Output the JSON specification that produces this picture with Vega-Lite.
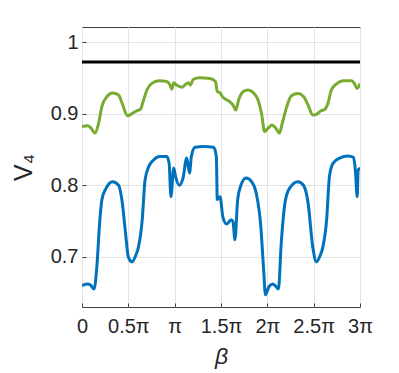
{
  "$schema": "https://vega.github.io/schema/vega-lite/v6.json",
  "width": 278,
  "height": 280,
  "autosize": "none",
  "padding": {"left": 82, "top": 27, "right": 39, "bottom": 66},
  "background": "white",
  "config": {
    "font": "Liberation Sans",
    "view": {"stroke": "#404040", "strokeWidth": 1},
    "axis": {
      "grid": true,
      "gridColor": "#e3e3e3",
      "gridWidth": 1,
      "domain": false,
      "tickColor": "#404040",
      "tickSize": -4,
      "labelFont": "Liberation Sans",
      "labelFontSize": 20,
      "labelColor": "#262626",
      "titleColor": "#262626",
      "titleFontWeight": "normal",
      "labelOverlap": false,
      "labelFlush": false,
      "labelBound": false
    }
  },
  "data": {"values": [
    {"s": "blue", "x": 0.0, "y": 0.660},
    {"s": "blue", "x": 0.06, "y": 0.662},
    {"s": "blue", "x": 0.09, "y": 0.661},
    {"s": "blue", "x": 0.13, "y": 0.655},
    {"s": "blue", "x": 0.16, "y": 0.686},
    {"s": "blue", "x": 0.19, "y": 0.747},
    {"s": "blue", "x": 0.215, "y": 0.780},
    {"s": "blue", "x": 0.26, "y": 0.796},
    {"s": "blue", "x": 0.33, "y": 0.805},
    {"s": "blue", "x": 0.395, "y": 0.800},
    {"s": "blue", "x": 0.43, "y": 0.780},
    {"s": "blue", "x": 0.47, "y": 0.733},
    {"s": "blue", "x": 0.50, "y": 0.700},
    {"s": "blue", "x": 0.54, "y": 0.693},
    {"s": "blue", "x": 0.58, "y": 0.702},
    {"s": "blue", "x": 0.61, "y": 0.714},
    {"s": "blue", "x": 0.65, "y": 0.752},
    {"s": "blue", "x": 0.68, "y": 0.807},
    {"s": "blue", "x": 0.72, "y": 0.826},
    {"s": "blue", "x": 0.77, "y": 0.835},
    {"s": "blue", "x": 0.84, "y": 0.840},
    {"s": "blue", "x": 0.915, "y": 0.840},
    {"s": "blue", "x": 0.94, "y": 0.831},
    {"s": "blue", "x": 0.96, "y": 0.784},
    {"s": "blue", "x": 0.99, "y": 0.824},
    {"s": "blue", "x": 1.01, "y": 0.812},
    {"s": "blue", "x": 1.05, "y": 0.800},
    {"s": "blue", "x": 1.09, "y": 0.810},
    {"s": "blue", "x": 1.13, "y": 0.838},
    {"s": "blue", "x": 1.16, "y": 0.817},
    {"s": "blue", "x": 1.18, "y": 0.840},
    {"s": "blue", "x": 1.22, "y": 0.853},
    {"s": "blue", "x": 1.31, "y": 0.854},
    {"s": "blue", "x": 1.42, "y": 0.853},
    {"s": "blue", "x": 1.45, "y": 0.840},
    {"s": "blue", "x": 1.46, "y": 0.780},
    {"s": "blue", "x": 1.49, "y": 0.784},
    {"s": "blue", "x": 1.52, "y": 0.756},
    {"s": "blue", "x": 1.56, "y": 0.746},
    {"s": "blue", "x": 1.61, "y": 0.752},
    {"s": "blue", "x": 1.63, "y": 0.749},
    {"s": "blue", "x": 1.65, "y": 0.724},
    {"s": "blue", "x": 1.68, "y": 0.780},
    {"s": "blue", "x": 1.71, "y": 0.798},
    {"s": "blue", "x": 1.77, "y": 0.810},
    {"s": "blue", "x": 1.83, "y": 0.805},
    {"s": "blue", "x": 1.88, "y": 0.789},
    {"s": "blue", "x": 1.93, "y": 0.742},
    {"s": "blue", "x": 1.96, "y": 0.682},
    {"s": "blue", "x": 1.98, "y": 0.647},
    {"s": "blue", "x": 2.02, "y": 0.659},
    {"s": "blue", "x": 2.06, "y": 0.662},
    {"s": "blue", "x": 2.09, "y": 0.659},
    {"s": "blue", "x": 2.12, "y": 0.655},
    {"s": "blue", "x": 2.15, "y": 0.719},
    {"s": "blue", "x": 2.19, "y": 0.775},
    {"s": "blue", "x": 2.24, "y": 0.796},
    {"s": "blue", "x": 2.33, "y": 0.805},
    {"s": "blue", "x": 2.39, "y": 0.800},
    {"s": "blue", "x": 2.44, "y": 0.775},
    {"s": "blue", "x": 2.49, "y": 0.714},
    {"s": "blue", "x": 2.53, "y": 0.693},
    {"s": "blue", "x": 2.57, "y": 0.702},
    {"s": "blue", "x": 2.60, "y": 0.714},
    {"s": "blue", "x": 2.64, "y": 0.752},
    {"s": "blue", "x": 2.67, "y": 0.812},
    {"s": "blue", "x": 2.71, "y": 0.831},
    {"s": "blue", "x": 2.78, "y": 0.838},
    {"s": "blue", "x": 2.87, "y": 0.841},
    {"s": "blue", "x": 2.93, "y": 0.839},
    {"s": "blue", "x": 2.95, "y": 0.821},
    {"s": "blue", "x": 2.97, "y": 0.784},
    {"s": "blue", "x": 2.98, "y": 0.821},
    {"s": "blue", "x": 3.0, "y": 0.824},
    {"s": "green", "x": 0.0, "y": 0.882},
    {"s": "green", "x": 0.061, "y": 0.883},
    {"s": "green", "x": 0.09, "y": 0.881},
    {"s": "green", "x": 0.14, "y": 0.873},
    {"s": "green", "x": 0.18, "y": 0.887},
    {"s": "green", "x": 0.215, "y": 0.910},
    {"s": "green", "x": 0.27, "y": 0.924},
    {"s": "green", "x": 0.33, "y": 0.929},
    {"s": "green", "x": 0.395, "y": 0.926},
    {"s": "green", "x": 0.44, "y": 0.912},
    {"s": "green", "x": 0.49, "y": 0.897},
    {"s": "green", "x": 0.54, "y": 0.900},
    {"s": "green", "x": 0.59, "y": 0.904},
    {"s": "green", "x": 0.63, "y": 0.906},
    {"s": "green", "x": 0.66, "y": 0.917},
    {"s": "green", "x": 0.70, "y": 0.933},
    {"s": "green", "x": 0.75, "y": 0.942},
    {"s": "green", "x": 0.83, "y": 0.946},
    {"s": "green", "x": 0.915, "y": 0.945},
    {"s": "green", "x": 0.95, "y": 0.940},
    {"s": "green", "x": 0.97, "y": 0.934},
    {"s": "green", "x": 0.99, "y": 0.943},
    {"s": "green", "x": 1.02, "y": 0.940},
    {"s": "green", "x": 1.08, "y": 0.937},
    {"s": "green", "x": 1.11, "y": 0.940},
    {"s": "green", "x": 1.15, "y": 0.943},
    {"s": "green", "x": 1.17, "y": 0.940},
    {"s": "green", "x": 1.20, "y": 0.948},
    {"s": "green", "x": 1.27, "y": 0.950},
    {"s": "green", "x": 1.38, "y": 0.949},
    {"s": "green", "x": 1.44, "y": 0.945},
    {"s": "green", "x": 1.46, "y": 0.931},
    {"s": "green", "x": 1.49, "y": 0.929},
    {"s": "green", "x": 1.52, "y": 0.923},
    {"s": "green", "x": 1.58, "y": 0.918},
    {"s": "green", "x": 1.63, "y": 0.912},
    {"s": "green", "x": 1.66, "y": 0.905},
    {"s": "green", "x": 1.69, "y": 0.919},
    {"s": "green", "x": 1.74, "y": 0.931},
    {"s": "green", "x": 1.79, "y": 0.933},
    {"s": "green", "x": 1.85, "y": 0.929},
    {"s": "green", "x": 1.90, "y": 0.919},
    {"s": "green", "x": 1.94, "y": 0.898},
    {"s": "green", "x": 1.97, "y": 0.875},
    {"s": "green", "x": 2.01, "y": 0.880},
    {"s": "green", "x": 2.05, "y": 0.884},
    {"s": "green", "x": 2.09, "y": 0.880},
    {"s": "green", "x": 2.13, "y": 0.873},
    {"s": "green", "x": 2.16, "y": 0.886},
    {"s": "green", "x": 2.21, "y": 0.910},
    {"s": "green", "x": 2.26, "y": 0.925},
    {"s": "green", "x": 2.33, "y": 0.928},
    {"s": "green", "x": 2.39, "y": 0.924},
    {"s": "green", "x": 2.44, "y": 0.912},
    {"s": "green", "x": 2.49, "y": 0.898},
    {"s": "green", "x": 2.53, "y": 0.899},
    {"s": "green", "x": 2.58, "y": 0.904},
    {"s": "green", "x": 2.62, "y": 0.906},
    {"s": "green", "x": 2.66, "y": 0.917},
    {"s": "green", "x": 2.69, "y": 0.933},
    {"s": "green", "x": 2.75, "y": 0.942},
    {"s": "green", "x": 2.82, "y": 0.946},
    {"s": "green", "x": 2.91, "y": 0.946},
    {"s": "green", "x": 2.94, "y": 0.942},
    {"s": "green", "x": 2.97, "y": 0.935},
    {"s": "green", "x": 3.0, "y": 0.942},
    {"s": "black", "x": 0, "y": 0.972},
    {"s": "black", "x": 3, "y": 0.972}
  ]},
  "mark": {"type": "line", "strokeWidth": 3, "strokeJoin": "round", "interpolate": "monotone", "clip": true},
  "encoding": {
    "x": {
      "field": "x", "type": "quantitative",
      "scale": {"domain": [0, 3], "nice": false, "zero": false},
      "axis": {
        "values": [0, 0.5, 1, 1.5, 2, 2.5, 3],
        "labelExpr": "datum.value == 0 ? '0' : datum.value == 1 ? 'π' : (datum.value % 1 == 0 ? format(datum.value, 'd') : format(datum.value, '.1f')) + 'π'",
        "labelPadding": 13,
        "title": "β",
        "titleFontSize": 23,
        "titleFontStyle": "italic",
        "titlePadding": 9
      }
    },
    "y": {
      "field": "y", "type": "quantitative",
      "scale": {"domain": [0.63, 1.021], "nice": false, "zero": false},
      "axis": {
        "values": [0.7, 0.8, 0.9, 1],
        "labelExpr": "datum.value == 1 ? '1' : format(datum.value, '.1f')",
        "labelPadding": 8,
        "title": "V₄",
        "titleFontSize": 25,
        "titlePadding": 14
      }
    },
    "color": {
      "field": "s", "type": "nominal",
      "scale": {"domain": ["blue", "green", "black"], "range": ["#0072BD", "#77AC30", "#000000"]},
      "legend": null
    },
    "order": {"field": "x", "type": "quantitative"}
  }
}
